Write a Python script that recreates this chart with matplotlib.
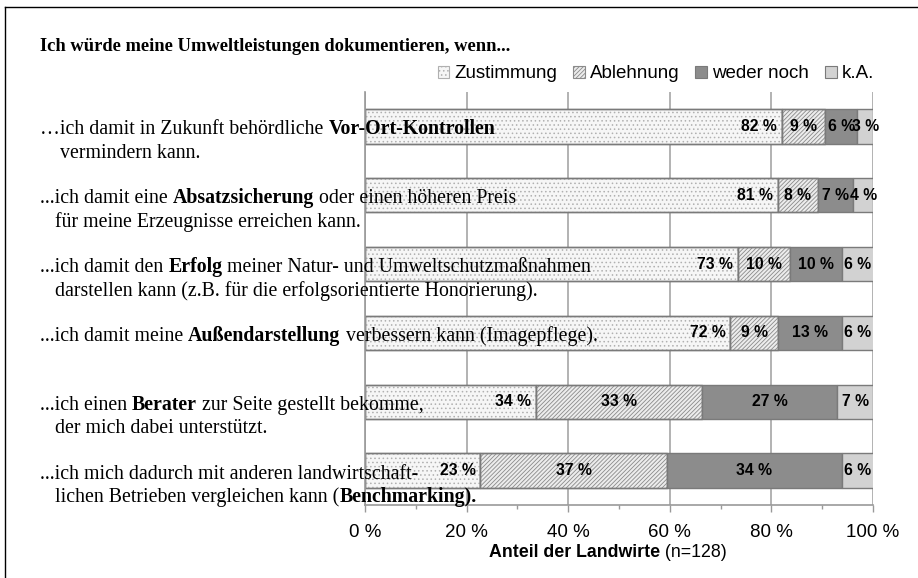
import matplotlib
matplotlib.use("Agg")
import matplotlib.pyplot as plt
from matplotlib.patches import Patch
from matplotlib.lines import Line2D

# data (share of farmers in %, n=128)
series = ["Zustimmung", "Ablehnung", "weder noch", "k.A."]
zustimmung = [82.0, 81.3, 73.4, 71.9, 33.6, 22.7]
ablehnung = [8.6, 7.8, 10.2, 9.4, 32.8, 36.7]
weder_noch = [6.3, 7.0, 10.2, 12.5, 26.6, 34.4]
keine_angabe = [3.1, 3.9, 6.3, 6.3, 7.0, 6.3]

# category labels: list of lines, each line a list of (text, bold)
row_labels = [
    [[("…ich damit in Zukunft behördliche ", False), ("Vor-Ort-Kontrollen", True)],
     [("    vermindern kann.", False)]],
    [[("...ich damit eine ", False), ("Absatzsicherung", True), (" oder einen höheren Preis", False)],
     [("   für meine Erzeugnisse erreichen kann.", False)]],
    [[("...ich damit den ", False), ("Erfolg", True), (" meiner Natur- und Umweltschutzmaßnahmen", False)],
     [("   darstellen kann (z.B. für die erfolgsorientierte Honorierung).", False)]],
    [[("...ich damit meine ", False), ("Außendarstellung", True), (" verbessern kann (Imagepflege).", False)]],
    [[("...ich einen ", False), ("Berater", True), (" zur Seite gestellt bekomme,", False)],
     [("   der mich dabei unterstützt.", False)]],
    [[("...ich mich dadurch mit anderen landwirtschaft-", False)],
     [("   lichen Betrieben vergleichen kann (", False), ("Benchmarking).", True)]],
]
title = "Ich würde meine Umweltleistungen dokumentieren, wenn..."
xticks = [0, 20, 40, 60, 80, 100]
xtick_labels = ["0 %", "20 %", "40 %", "60 %", "80 %", "100 %"]

W, H = 918, 578
SERIF = "Liberation Serif"
SANS = "Liberation Sans"

styles = [
    dict(face="#f6f6f6", hatch="....", hcolor="#b0b0b0"),
    dict(face="#ececec", hatch="////////", hcolor="#8a8a8a"),
    dict(face="#8c8c8c", hatch=None, hcolor=None),
    dict(face="#d2d2d2", hatch=None, hcolor=None),
]
plt.rcParams["hatch.linewidth"] = 0.6

fig = plt.figure(figsize=(W / 100, H / 100), dpi=100)
ax = fig.add_axes([365 / W, 1 - 505 / H, 508 / W, 413 / H])

rows = list(range(len(zustimmung)))
data = [zustimmung, ablehnung, weder_noch, keine_angabe]
left = [0.0] * len(rows)
for k, vals in enumerate(data):
    st = styles[k]
    ax.barh(rows, vals, left=left, height=0.5, color=st["face"],
            edgecolor="#7a7a7a", linewidth=1.0, zorder=2)
    if st["hatch"]:
        ax.barh(rows, vals, left=left, height=0.5, color="none",
                edgecolor=st["hcolor"], hatch=st["hatch"], linewidth=0, zorder=2)
        ax.barh(rows, vals, left=left, height=0.5, color="none",
                edgecolor="#7a7a7a", linewidth=1.0, zorder=2)
    for i, v in enumerate(vals):
        txt = f"{int(v + 0.5)} %"
        if k == 0:
            ax.annotate(txt, xy=(left[i] + v, i), xytext=(-3.5, 0),
                        textcoords="offset points", ha="right", va="center",
                        family=SANS, fontsize=11.3, fontweight="bold", zorder=5)
        else:
            ax.text(left[i] + v / 2, i, txt, ha="center", va="center",
                    family=SANS, fontsize=11.3, fontweight="bold", zorder=5)
    left = [a + b for a, b in zip(left, vals)]

ax.set_xlim(0, 100)
ax.set_ylim(len(rows) - 0.5, -0.5)
ax.set_yticks([])
ax.set_xticks(xticks)
ax.set_xticklabels(xtick_labels, family=SANS, fontsize=13.5)
ax.set_xticks(range(10, 100, 20), minor=True)
ax.tick_params(axis="x", which="major", length=5, width=1, color="#999999", pad=9)
ax.tick_params(axis="x", which="minor", length=3, width=1, color="#999999")
ax.xaxis.grid(True, color="#a6a6a6", linewidth=1.2, zorder=0)
ax.set_axisbelow(True)
for s in ["top", "right"]:
    ax.spines[s].set_visible(False)
for s in ["left", "bottom"]:
    ax.spines[s].set_color("#999999")
    ax.spines[s].set_linewidth(1.2)

renderer = fig.canvas.get_renderer()


def text_width(txt, **kw):
    a = fig.text(0, 0, "|" + txt + "|", **kw)
    b = fig.text(0, 0, "||", **kw)
    w = a.get_window_extent(renderer).width - b.get_window_extent(renderer).width
    a.remove()
    b.remove()
    return w


def rich_line(x_px, y_px, segments, family, size, center=False):
    widths = [text_width(t, family=family, fontsize=size,
                         fontweight="bold" if b else "normal") for t, b in segments]
    if center:
        x_px -= sum(widths) / 2
    for (t, b), w in zip(segments, widths):
        fig.text(x_px / W, 1 - y_px / H, t, family=family, fontsize=size,
                 fontweight="bold" if b else "normal", va="baseline", zorder=10)
        x_px += w


# category labels, positioned from bar centres
for i, lines in enumerate(row_labels):
    yc = H - ax.transData.transform((0, i))[1]
    for j, segs in enumerate(lines):
        rich_line(40, yc + 8 + 23.5 * j, segs, SERIF, 14.3)

# title
fig.text(40 / W, 1 - 51 / H, title, family=SERIF, fontsize=13.3, fontweight="bold")

# x label
rich_line(608, 557, [("Anteil der Landwirte", True), (" (n=128)", False)], SANS, 12.8, center=True)

# legend
handles = []
for name, st in zip(series, styles):
    handles.append(Patch(facecolor=st["face"], edgecolor=st["hcolor"] or "#7a7a7a",
                         hatch=st["hatch"], linewidth=0.8, label=name))
fig.legend(handles=handles, loc="center right", bbox_to_anchor=(874 / W, 1 - 74 / H),
           ncol=4, frameon=False, handlelength=0.62, handleheight=0.62,
           handletextpad=0.27, columnspacing=0.85, borderaxespad=0, borderpad=0,
           prop={"family": SANS, "size": 13.5})

# frame
fig.add_artist(Line2D([5 / W, 5 / W], [0, 1 - 7 / H], transform=fig.transFigure,
                      color="black", linewidth=1))
fig.add_artist(Line2D([5 / W, 1], [1 - 7 / H, 1 - 7 / H], transform=fig.transFigure,
                      color="black", linewidth=1))

fig.savefig("out.png", dpi=100)
